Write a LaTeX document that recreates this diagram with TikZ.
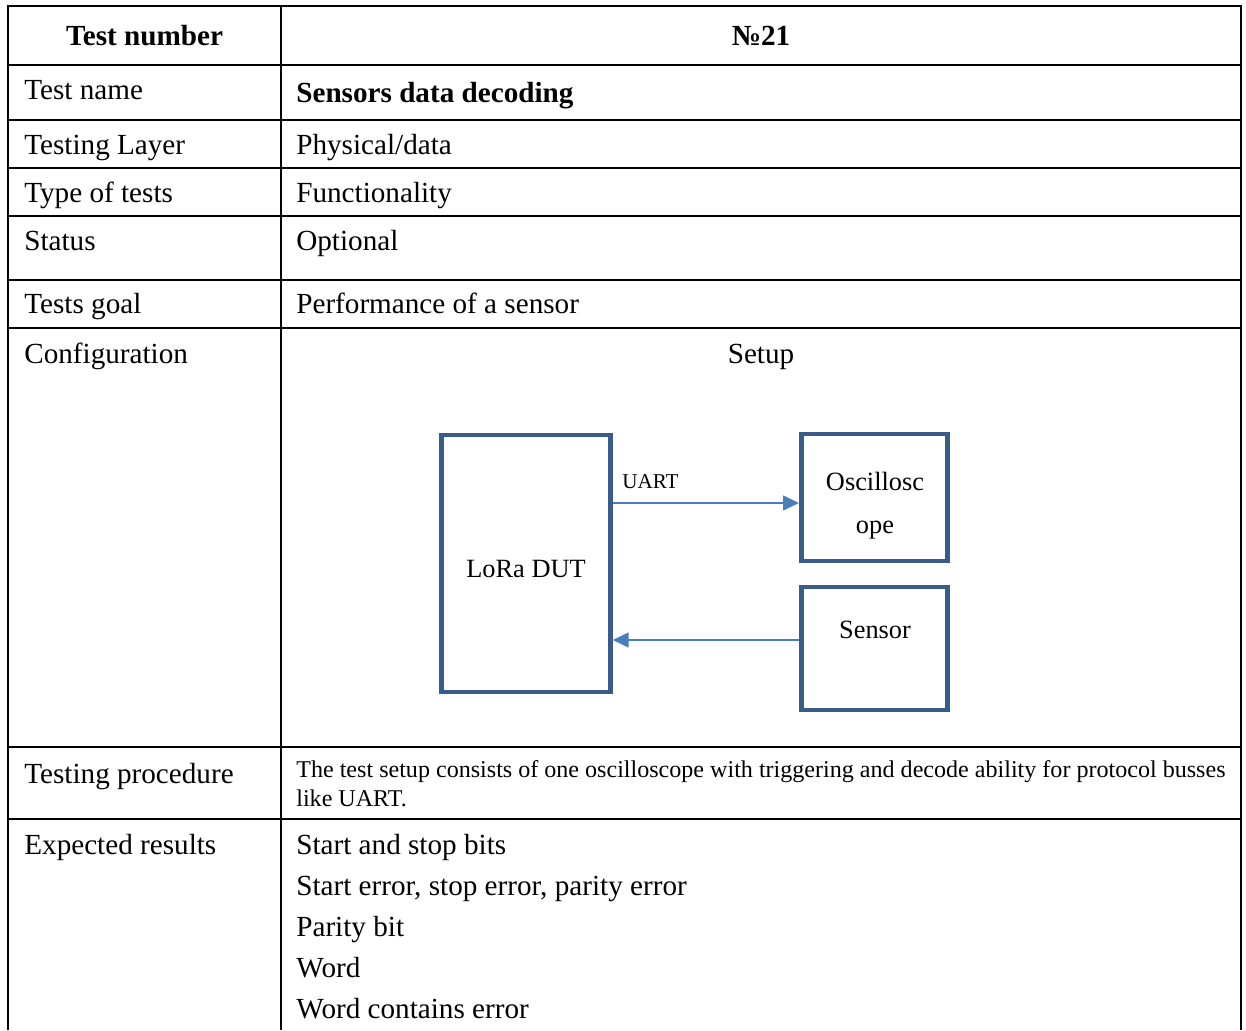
\documentclass[tikz,border=0pt]{standalone}
\usepackage{fontspec}
\setmainfont{Liberation Serif}
\usetikzlibrary{arrows.meta}

\definecolor{boxblue}{RGB}{56,93,138}
\definecolor{linkblue}{RGB}{74,126,187}

\tikzset{
  grid line/.style={line width=1.15pt, black},
  cell/.style={anchor=base west, inner sep=0pt, font=\fontsize{16.6}{20}\selectfont},
  cellc/.style={anchor=base, inner sep=0pt, font=\fontsize{16.6}{20}\selectfont},
  smallcell/.style={anchor=base west, inner sep=0pt, font=\fontsize{13.7}{16}\selectfont},
  unitbox/.style={draw=boxblue, line width=2.7pt, rectangle, inner sep=0pt},
  boxtext/.style={anchor=base, inner sep=0pt, font=\fontsize{15}{18}\selectfont},
  link/.style={draw=linkblue, line width=0.9pt, -{Triangle[length=9pt,width=8.5pt]}},
}

\begin{document}
\begin{tikzpicture}[x=0.02cm, y=-0.02cm]
  \useasboundingbox (0,0) rectangle (1246,1030);

  % table rules
  \draw[grid line] (8,1030) -- (8,6) -- (1241,6) -- (1241,1030);
  \draw[grid line] (281,6) -- (281,1030);
  \foreach \yy in {65,120,168,216,280,328,747,819}
    \draw[grid line] (8,\yy) -- (1241,\yy);

  % header row
  \node[cellc, font=\fontsize{16.6}{20}\selectfont\bfseries] (hnum) at (144.5,46) {Test number};
  \node[cellc, font=\fontsize{16.6}{20}\selectfont\bfseries] (hval) at (761,46) {№21};

  % left column
  \node[cell] (l1) at (24,100) {Test name};
  \node[cell] (l2) at (24,155) {Testing Layer};
  \node[cell] (l3) at (24,203) {Type of tests};
  \node[cell] (l4) at (24,251) {Status};
  \node[cell] (l5) at (24,314) {Tests goal};
  \node[cell] (l6) at (24,363) {Configuration};
  \node[cell] (l7) at (24,783) {Testing procedure};
  \node[cell] (l8) at (24,854) {Expected results};

  % right column
  \node[cell, font=\fontsize{16.6}{20}\selectfont\bfseries] (r1) at (296,103) {Sensors data decoding};
  \node[cell] (r2) at (296,155) {Physical/data};
  \node[cell] (r3) at (296,203) {Functionality};
  \node[cell] (r4) at (296,251) {Optional};
  \node[cell] (r5) at (296,314) {Performance of a sensor};
  \node[cellc] (r6) at (761,363) {Setup};
  \node[smallcell] (r7a) at (296,777) {The test setup consists of one oscilloscope with triggering and decode ability for protocol busses};
  \node[smallcell] (r7b) at (296,806) {like UART.};
  \node[cell] (r8a) at (296,854)  {Start and stop bits};
  \node[cell] (r8b) at (296,895)  {Start error, stop error, parity error};
  \node[cell] (r8c) at (296,936)  {Parity bit};
  \node[cell] (r8d) at (296,977)  {Word};
  \node[cell] (r8e) at (296,1018) {Word contains error};

  % setup diagram
  \node[unitbox, minimum width=3.38cm, minimum height=5.14cm] (dut) at (526,563.5) {};
  \node[unitbox, minimum width=2.93cm, minimum height=2.54cm] (osc) at (874.5,497.5) {};
  \node[unitbox, minimum width=2.93cm, minimum height=2.46cm] (sens) at (874.5,648.5) {};

  \node[boxtext] (dutlbl) at (526,577) {LoRa DUT};
  \node[boxtext] (osclbl1) at (875,490) {Oscillosc};
  \node[boxtext] (osclbl2) at (875,533) {ope};
  \node[boxtext] (senslbl) at (875,638) {Sensor};

  \coordinate (uy) at (0,503);
  \coordinate (ly) at (0,640);
  \draw[link] (dut.east |- uy) -- (osc.west |- uy);
  \draw[link] (sens.west |- ly) -- (dut.east |- ly);
  \node[anchor=base west, inner sep=0pt, font=\fontsize{12}{14}\selectfont] (uart) at (622,488) {UART};
\end{tikzpicture}
\end{document}
